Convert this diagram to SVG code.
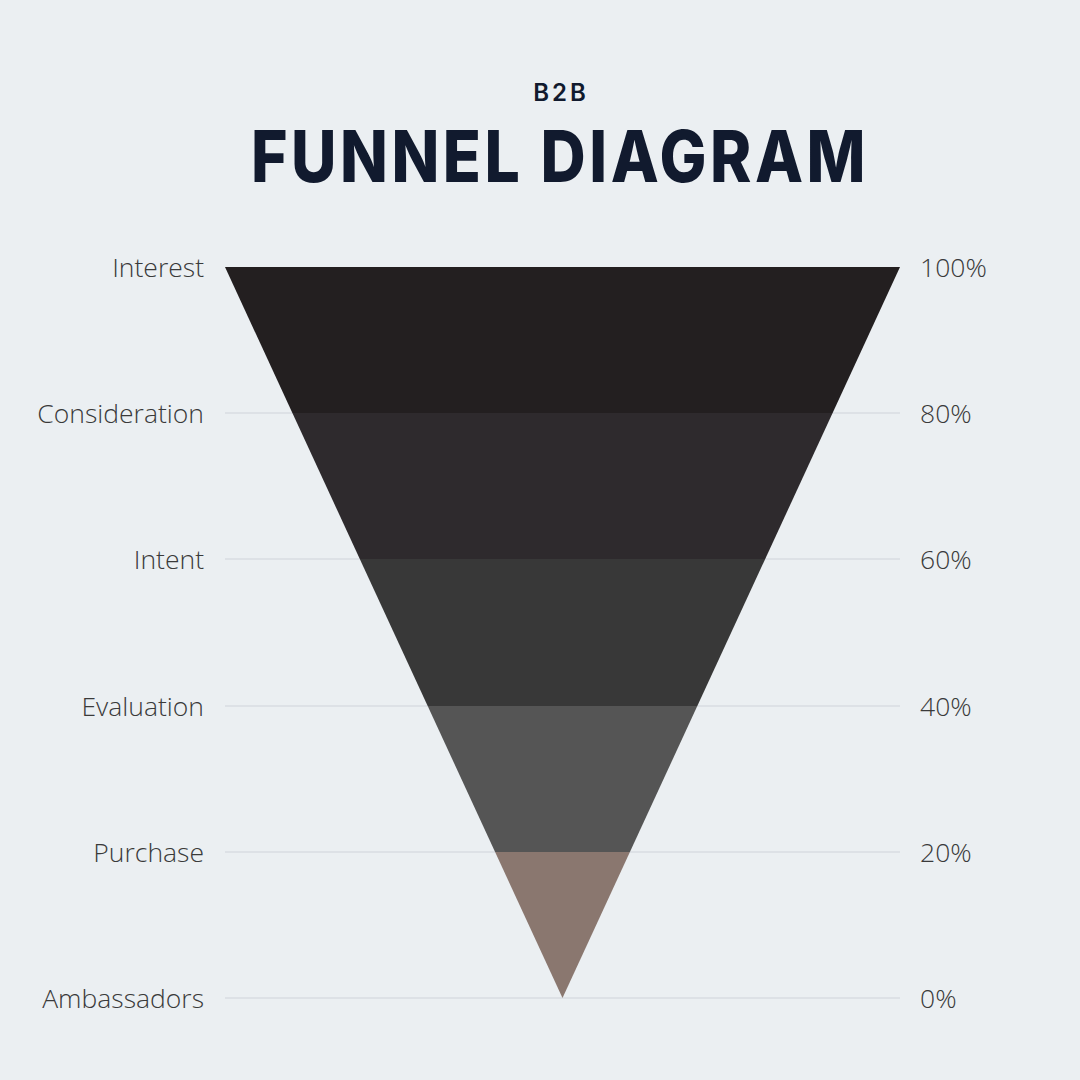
<svg xmlns="http://www.w3.org/2000/svg" width="1080" height="1080" viewBox="0 0 1080 1080">
<style>
.lbl{font-family:"Open Sans","Liberation Sans",sans-serif;font-weight:300;font-size:26.5px;fill:#3a3a3a}
.l{text-anchor:end}
.grid{stroke:#cfd4d9;stroke-width:1.2}
</style>
<rect width="1080" height="1080" fill="#ebeff2"/>
<text x="561" y="101" text-anchor="middle" font-family="Inter,'Liberation Sans',sans-serif" font-weight="600" font-size="24" letter-spacing="3" fill="#111a2e">B2B</text>
<text x="560" y="182" text-anchor="middle" font-family="Inter,'Liberation Sans',sans-serif" font-weight="800" font-size="71" letter-spacing="4" textLength="618" lengthAdjust="spacingAndGlyphs" fill="#111a2e">FUNNEL DIAGRAM</text>
<g id="connectors">
<line class="grid" x1="225" y1="413" x2="900" y2="413"/>
<line class="grid" x1="225" y1="559" x2="900" y2="559"/>
<line class="grid" x1="225" y1="706" x2="900" y2="706"/>
<line class="grid" x1="225" y1="852" x2="900" y2="852"/>
<line class="grid" x1="225" y1="998" x2="900" y2="998"/>
</g>
<g id="funnel">
<polygon id="band-interest" points="225,267 900,267 832.6,413 292.4,413" fill="#231f20"/>
<polygon id="band-consideration" points="292.4,413 832.6,413 765.2,559 359.8,559" fill="#2e2a2d"/>
<polygon id="band-intent" points="359.8,559 765.2,559 697.3,706 427.7,706" fill="#383838"/>
<polygon id="band-evaluation" points="427.7,706 697.3,706 629.9,852 495.1,852" fill="#555555"/>
<polygon id="band-purchase" points="495.1,852 629.9,852 562.5,998" fill="#8a776f"/>
</g>
<g id="labels-left">
<text class="lbl l" x="204" y="277">Interest</text>
<text class="lbl l" x="204" y="423">Consideration</text>
<text class="lbl l" x="204" y="569">Intent</text>
<text class="lbl l" x="204" y="716">Evaluation</text>
<text class="lbl l" x="204" y="862">Purchase</text>
<text class="lbl l" x="204" y="1008">Ambassadors</text>
</g>
<g id="labels-right">
<text class="lbl" x="920" y="277">100%</text>
<text class="lbl" x="920" y="423">80%</text>
<text class="lbl" x="920" y="569">60%</text>
<text class="lbl" x="920" y="716">40%</text>
<text class="lbl" x="920" y="862">20%</text>
<text class="lbl" x="920" y="1008">0%</text>
</g>
</svg>
